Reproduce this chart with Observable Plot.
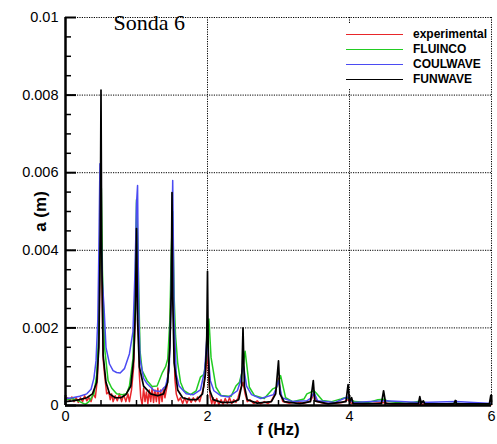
<!DOCTYPE html>
<html>
<head>
<meta charset="utf-8">
<script src="https://cdn.jsdelivr.net/npm/d3@7"></script>
<script src="https://cdn.jsdelivr.net/npm/@observablehq/plot@0.6"></script>
<style>
  html, body { margin: 0; padding: 0; background: #fff; }
  #legend { position: absolute; left: 340px; top: 23px; width: 150px; height: 65px; background: #fff;
            font-family: "Liberation Sans", Arial, sans-serif; font-weight: bold; font-size: 12px; }
  .item { position: absolute; left: 0; height: 14px; }
  .swatch { position: absolute; left: 6px; width: 57px; top: 6px; }
  .lab { position: absolute; left: 73px; top: -1px; white-space: nowrap; line-height: 14px; }
</style>
</head>
<body>
<div id="chart"></div>
<div id="legend"></div>
<script>
// ---------- data ----------
const seriesNames = ["experimental", "FLUINCO", "COULWAVE", "FUNWAVE"];
const seriesColors = ["#e8262a", "#22cc22", "#4b4bf2", "#000000"];

const xTicks = [0, 2, 4, 6];
const xTickLabels = ["0", "2", "4", "6"];
const xMinor = [0.5, 1, 1.5, 2.5, 3, 3.5, 4.5, 5, 5.5];
const yTicks = [0, 0.002, 0.004, 0.006, 0.008, 0.01];
const yTickLabels = ["0", "0.002", "0.004", "0.006", "0.008", "0.01"];
const yMinor = [0.0005, 0.001, 0.0015, 0.0025, 0.003, 0.0035, 0.0045, 0.005, 0.0055,
                0.0065, 0.007, 0.0075, 0.0085, 0.009, 0.0095];

const expF = [0.00,0.03,0.06,0.09,0.12,0.15,0.18,0.21,0.24,0.27,0.30,0.33,0.36,0.39,0.42,0.45,0.47,0.49,0.50,0.51,0.53,0.55,0.58,0.61,0.63,0.65,0.67,0.70,0.73,0.76,0.79,0.82,0.85,0.88,0.90,0.93,0.96,0.98,1.00,1.02,1.04,1.06,1.08,1.10,1.12,1.14,1.16,1.18,1.20,1.22,1.24,1.26,1.28,1.30,1.32,1.34,1.36,1.38,1.40,1.43,1.46,1.48,1.50,1.52,1.54,1.56,1.59,1.62,1.65,1.68,1.71,1.74,1.77,1.80,1.83,1.86,1.89,1.92,1.95,1.98,2.00,2.02,2.04,2.06,2.08,2.10,2.13,2.16,2.19,2.22,2.25,2.28,2.31,2.34,2.37,2.40,2.43,2.46,2.50,2.53,2.56,2.60,2.65,2.70,2.75,2.80,2.85,2.90,2.95,3.00,3.03,3.06,3.15,3.25,3.35,3.45,3.50,3.54,3.65,3.80,3.90,3.98,4.03,4.20,4.48,4.60,5.00,5.50,6.00];
const expA = [0.00015,0.0002,0.00012,0.00022,0.0001,0.0002,0.00008,0.0002,0.0001,0.00025,0.00012,0.0002,0.0001,0.0003,0.0002,0.0007,0.0018,0.0040,0.0048,0.0035,0.0012,0.0008,0.0003,0.00035,0.00015,0.0003,0.0001,0.00025,0.00012,0.0003,0.0001,0.00028,0.0001,0.0003,0.0001,0.0004,0.0010,0.0022,0.0042,0.0030,0.0008,0.0002,0.00002,0.00045,0.0001,0.00035,0.00005,0.0004,0.0001,0.00045,0.00008,0.0004,0.0001,0.00045,0.00005,0.0004,0.0001,0.00045,0.0002,0.0005,0.0012,0.0026,0.0044,0.0025,0.0007,0.0003,0.00012,0.0002,0.00005,0.0002,0.00006,0.0002,0.00008,0.0002,0.0001,0.00022,0.0001,0.0003,0.0005,0.0010,0.0014,0.0006,0.0002,0.00004,0.0002,0.00003,0.00018,0.00002,0.00015,0.00003,0.00018,0.00005,0.0002,0.00005,0.00015,0.00008,0.0002,0.0004,0.0006,0.0003,0.0001,0.00015,0.00005,0.00012,0.00004,0.0001,0.00005,0.00012,0.0003,0.0007,0.0003,0.0001,0.00006,0.0001,0.00005,0.00012,0.0003,0.0001,0.00005,0.00006,0.00008,0.00015,0.00005,0.00003,0.00008,0.00003,0.00004,0.00003,0.00002];

const fluF = [0,0.1,0.2,0.28,0.33,0.4,0.44,0.47,0.49,0.505,0.52,0.55,0.6,0.65,0.72,0.8,0.86,0.9,0.95,0.98,1.0,1.02,1.05,1.08,1.15,1.22,1.29,1.365,1.41,1.44,1.47,1.49,1.51,1.53,1.55,1.58,1.62,1.67,1.76,1.84,1.9,1.95,1.98,2.02,2.05,2.12,2.19,2.33,2.4,2.45,2.49,2.53,2.59,2.66,2.8,2.92,2.97,3.03,3.1,3.2,3.36,3.4,3.5,3.54,3.62,3.75,3.88,3.93,4.0,4.07,4.27,4.4,4.48,4.56,4.8,4.95,5.05,5.3,5.5,5.7,6.0];
const fluA = [0.00015,0.00018,0.0001,0.00003,0.0001,0.0003,0.0008,0.002,0.0045,0.0056,0.0035,0.0015,0.00064,0.00045,0.0003,0.00028,0.0003,0.0005,0.0012,0.0028,0.0053,0.0040,0.0014,0.0009,0.00064,0.00049,0.0005,0.00085,0.001,0.0012,0.0022,0.004,0.0050,0.0028,0.0018,0.0011,0.0006,0.00038,0.00028,0.00038,0.00073,0.0008,0.0012,0.00223,0.00124,0.00047,0.00026,0.00023,0.0005,0.0006,0.0009,0.0014,0.00047,0.00026,0.00018,0.00043,0.00047,0.00077,0.0002,0.0001,0.00017,0.0003,0.00038,0.0003,0.00013,0.0001,0.00017,0.0002,0.00018,0.0001,0.00008,0.00015,0.00016,0.0001,0.00005,0.0001,0.00008,0.00004,0.00006,0.00003,0.00003];

const couF = [0,0.1,0.2,0.3,0.36,0.4,0.43,0.455,0.47,0.485,0.50,0.52,0.546,0.57,0.62,0.67,0.72,0.77,0.83,0.9,0.95,0.98,1.0,1.015,1.03,1.05,1.1,1.15,1.25,1.34,1.41,1.46,1.485,1.51,1.53,1.56,1.6,1.7,1.8,1.9,1.96,1.99,2.04,2.09,2.19,2.3,2.42,2.46,2.49,2.51,2.55,2.62,2.75,2.93,2.97,3.0,3.05,3.2,3.4,3.46,3.5,3.55,3.8,3.97,4.05,4.5,5.0,5.5,6.0];
const couA = [0.00018,0.0002,0.00024,0.0003,0.00042,0.0007,0.00115,0.0022,0.004,0.00623,0.0045,0.0032,0.0024,0.0015,0.00107,0.0009,0.00085,0.00084,0.00095,0.00133,0.0019,0.0035,0.0052,0.00567,0.0025,0.0012,0.0007,0.00056,0.00038,0.00036,0.0005,0.0009,0.0025,0.0058,0.0022,0.0008,0.0005,0.0003,0.00028,0.0004,0.0009,0.0017,0.00064,0.00038,0.00025,0.00022,0.00038,0.0006,0.0009,0.0010,0.0005,0.00028,0.00018,0.00028,0.00045,0.00064,0.0002,0.0001,0.00012,0.0002,0.00034,0.00012,0.00008,0.00022,0.00008,0.00012,0.00008,0.0001,0.00005];

const funF = [0,0.1,0.2,0.3,0.38,0.44,0.47,0.49,0.50,0.51,0.53,0.57,0.62,0.7,0.78,0.85,0.92,0.96,0.985,1.0,1.015,1.04,1.1,1.2,1.3,1.38,1.44,1.47,1.49,1.50,1.51,1.53,1.58,1.65,1.75,1.85,1.93,1.97,1.99,2.0,2.01,2.03,2.08,2.2,2.35,2.44,2.48,2.5,2.52,2.56,2.7,2.9,2.96,3.0,3.02,3.08,3.3,3.45,3.49,3.51,3.7,3.95,3.98,4.0,4.03,4.05,4.45,4.48,4.51,4.97,4.99,5.01,5.04,5.06,5.47,5.49,5.51,5.97,5.99,6.0];
const funA = [0.0001,0.00012,0.00015,0.0002,0.0003,0.0006,0.0015,0.0045,0.00813,0.0040,0.0013,0.0006,0.0003,0.0002,0.0002,0.00028,0.0005,0.0012,0.0025,0.00456,0.0022,0.0010,0.0005,0.0003,0.00025,0.0003,0.0006,0.0015,0.003,0.00549,0.0028,0.0011,0.0004,0.0002,0.00015,0.00015,0.0003,0.0008,0.0018,0.00346,0.0015,0.0004,0.00015,0.00008,0.00008,0.00015,0.0005,0.0020,0.0005,0.00015,0.00006,0.0001,0.0003,0.00115,0.0003,0.0001,0.00005,0.0001,0.00064,0.00012,0.00004,0.0001,0.00054,0.0001,0.0002,0.00005,0.00005,0.00038,0.00005,0.00005,0.00023,0.00006,0.00012,0.00004,0.00004,0.00013,0.00004,0.00004,0.00026,0.0001];

// ---------- build ----------
const W = 497, H = 444, ML = 65, MR = 6, MT = 17, MB = 39;
const FW = W - ML - MR, FH = H - MT - MB;
const freqs = [expF, fluF, couF, funF];
const amps = [expA, fluA, couA, funA];
const widths = [1.5, 1.5, 1.5, 1.7];
const lineRows = [0, 1, 2, 3].map(i => freqs[i].map((f, j) => ({f, a: amps[i][j]})));

const dotted = {stroke: "#000", strokeWidth: 1, strokeDasharray: "1.2,1.2"};
const yFmt = (d) => yTickLabels[yTicks.indexOf(d)];
const xFmt = (d) => xTickLabels[xTicks.indexOf(d)];
const sans = "'Liberation Sans', Arial, sans-serif";

const marks = [
  Plot.ruleX(xTicks.slice(1), {...dotted}),
  Plot.ruleY(yTicks.slice(1), {...dotted})
];
for (let i = 0; i < 4; i++) {
  marks.push(Plot.line(lineRows[i], {x: "f", y: "a", stroke: seriesColors[i], strokeWidth: widths[i], strokeLinejoin: "round"}));
}
marks.push(
  Plot.tickY(yTicks, {y: d => d, stroke: "#000", strokeWidth: 2, insetRight: FW - 11}),
  Plot.tickY(yMinor, {y: d => d, stroke: "#000", strokeWidth: 1.5, insetRight: FW - 6}),
  Plot.tickX(xTicks, {x: d => d, stroke: "#000", strokeWidth: 2, insetTop: FH - 10}),
  Plot.tickX(xMinor, {x: d => d, stroke: "#000", strokeWidth: 1.5, insetTop: FH - 5}),
  Plot.ruleX([0], {stroke: "#000", strokeWidth: 2.5}),
  Plot.ruleY([0], {stroke: "#000", strokeWidth: 2.5}),
  Plot.text(yTicks, {y: d => d, text: yFmt, frameAnchor: "left", dx: -7, textAnchor: "end", lineAnchor: "middle", fontSize: 14.5, fontFamily: sans}),
  Plot.text(xTicks, {x: d => d, text: xFmt, frameAnchor: "bottom", dy: 5, textAnchor: "middle", lineAnchor: "top", fontSize: 14.5, fontFamily: sans}),
  Plot.text(["f (Hz)"], {text: d => d, frameAnchor: "bottom", dy: 24, textAnchor: "middle", lineAnchor: "middle", fontWeight: "bold", fontSize: 17, fontFamily: sans}),
  Plot.text(["a (m)"], {text: d => d, frameAnchor: "left", dx: -25, rotate: -90, textAnchor: "middle", lineAnchor: "middle", fontWeight: "bold", fontSize: 17, fontFamily: sans}),
  Plot.text(["Sonda 6"], {text: d => d, frameAnchor: "top-left", dx: 48, dy: 5.5, textAnchor: "start", lineAnchor: "middle", fontFamily: "'Liberation Serif', 'Times New Roman', serif", fontSize: 22})
);

const chart = Plot.plot({
  width: W, height: H,
  marginLeft: ML, marginRight: MR, marginTop: MT, marginBottom: MB,
  x: {domain: [0, 6], axis: null},
  y: {domain: [0, 0.01], axis: null},
  style: {fontFamily: sans, background: "#fff", color: "#000"},
  marks
});
document.getElementById("chart").appendChild(chart);

// legend overlay
const legend = document.getElementById("legend");
seriesNames.forEach((name, i) => {
  const item = document.createElement("div");
  item.className = "item";
  item.style.top = (4.5 + i * 15.3) + "px";
  const sw = document.createElement("div");
  sw.className = "swatch";
  sw.style.borderTop = (i === 0 ? 1.6 : 1.4) + "px solid " + seriesColors[i];
  const lab = document.createElement("div");
  lab.className = "lab";
  lab.textContent = name;
  item.appendChild(sw);
  item.appendChild(lab);
  legend.appendChild(item);
});
</script>
</body>
</html>
